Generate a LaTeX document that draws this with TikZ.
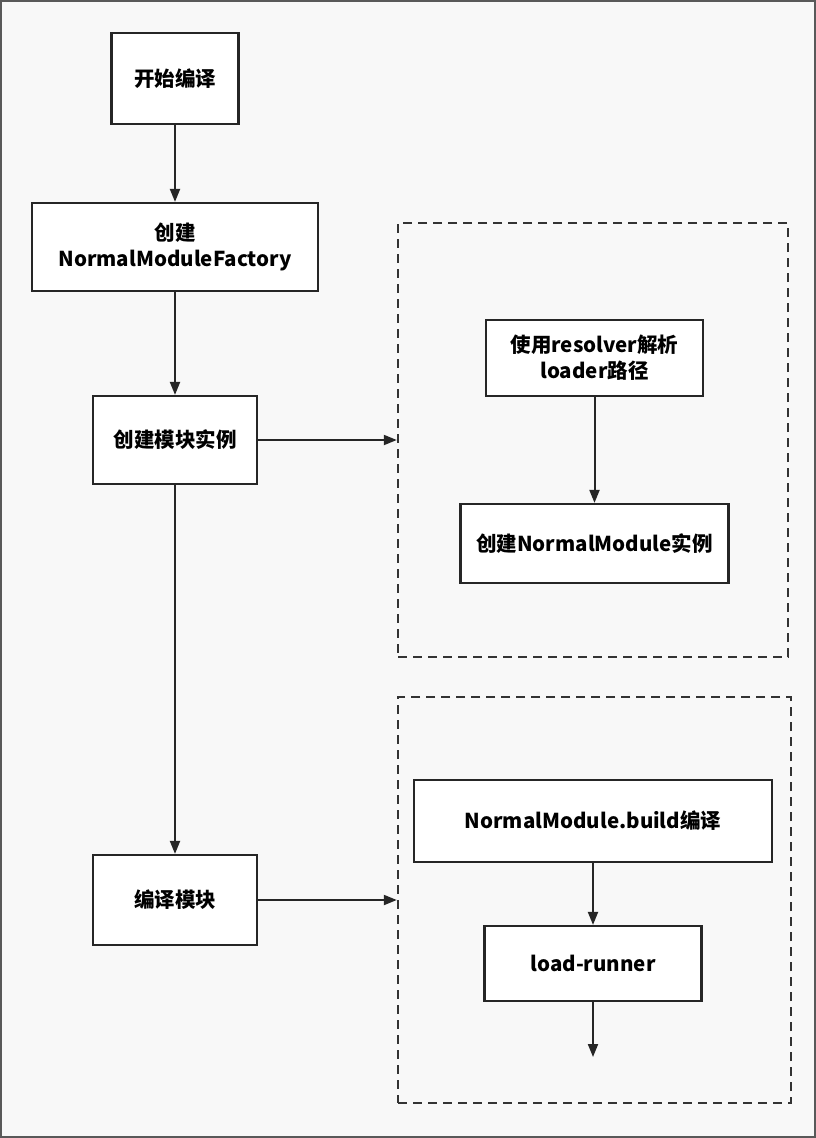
\documentclass[tikz,border=0pt]{standalone}
\usepackage{fontspec}
\newfontfamily\cjkfont{Noto Sans CJK SC}
\usetikzlibrary{arrows.meta}
\definecolor{pagebg}{RGB}{248,248,248}

\begin{document}
\begin{tikzpicture}[x=1pt,y=-1pt,
  flowbox/.style={draw=black!85,fill=white,line width=2.2pt,inner sep=0pt,
    align=center,font=\cjkfont\bfseries\fontsize{20.5}{26}\selectfont},
  groupbox/.style={draw=black!80,line width=2.4pt,dash pattern=on 9pt off 6pt,inner sep=0pt},
  flowarrow/.style={draw=black!85,line width=2pt,-{Triangle[length=13pt,width=10pt]}}]
\useasboundingbox (0,0) rectangle (816,1138);
\filldraw[fill=pagebg,draw=black!65,line width=2pt] (1,1) rectangle (815,1137);
% Drawing main column
\node[flowbox,minimum width=127pt,minimum height=91pt] (start) at (175,78.5) {开始编译};
\node[flowbox,minimum width=286pt,minimum height=88pt] (factory) at (175,247) {创建\\NormalModuleFactory};
\node[flowbox,minimum width=164pt,minimum height=88pt] (create) at (175,440) {创建模块实例};
\node[flowbox,minimum width=164pt,minimum height=90pt] (compile) at (175,900) {编译模块};
% Drawing dashed groups
\node[groupbox,minimum width=390pt,minimum height=434pt] (grpcreate) at (593,440) {};
\node[groupbox,minimum width=393pt,minimum height=406pt] (grpbuild) at (594.5,900) {};
% Group 1: create instance
\node[flowbox,minimum width=217pt,minimum height=76pt] (resolve) at (594.5,358) {使用resolver解析\\loader路径};
\node[flowbox,minimum width=268pt,minimum height=79pt] (nmod) at (594.5,543.5) {创建NormalModule实例};
% Group 2: build
\node[flowbox,minimum width=358pt,minimum height=82pt] (build) at (593,821) {NormalModule.build编译};
\node[flowbox,minimum width=217pt,minimum height=75pt] (runner) at (593,963.5) {load-runner};
\coordinate (runnerout) at (593,1057);
% Drawing arrows
\draw[flowarrow] (start) -- (factory);
\draw[flowarrow] (factory) -- (create);
\draw[flowarrow] (create) -- (compile);
\draw[flowarrow] (create) -- (grpcreate);
\draw[flowarrow] (compile) -- (grpbuild);
\draw[flowarrow] (resolve) -- (nmod);
\draw[flowarrow] (build) -- (runner);
\draw[flowarrow] (runner) -- (runnerout);
\end{tikzpicture}
\end{document}
